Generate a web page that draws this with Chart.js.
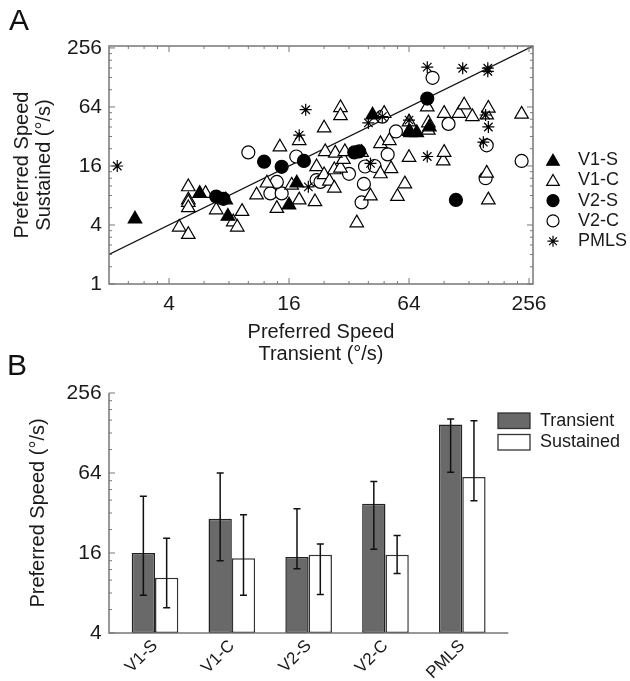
<!DOCTYPE html>
<html>
<head>
<meta charset="utf-8">
<script src="https://cdn.jsdelivr.net/npm/chart.js@4.4.1/dist/chart.umd.min.js"></script>
<style>
  html, body { margin: 0; padding: 0; background: #fff; }
  #wrap { position: relative; width: 630px; height: 681px; overflow: hidden; font-family: 'Liberation Sans', Arial, sans-serif; }
  canvas { position: absolute; left: 0; }
  #chartA { top: 0; }
  #chartB { top: 360px; }
  .panel { position: absolute; font-size: 30px; line-height: 34px; color: #111; }
</style>
</head>
<body>
<div id="wrap">
  <canvas id="chartA" width="630" height="370"></canvas>
  <canvas id="chartB" width="630" height="321"></canvas>
  <div class="panel" style="left:9px; top:3px;">A</div>
  <div class="panel" style="left:7px; top:348px;">B</div>
</div>
<script>
// Panel A: preferred speed per cell, [transient, sustained] in deg/s
const v1sPoints = [[2.7,4.6],[5.7,8.4],[7.7,7.2],[7.9,4.9],[16,6.4],[17.5,10.7],[42,53],[64,36],[70,35],[81,40]];
const v1cPoints = [
  [4.5,3.8],[5,3.2],[5,9.8],[5,7.2],[5,6.8],[5,6],[6.1,8.4],[6.9,5.7],[8.4,4.3],[8.8,3.8],[9.3,5.5],
  [11,8.1],[12.4,10.7],[13.9,5.9],[16.5,10.2],[18,7.2],[21.6,6.9],[22,15.7],[24,13],[25.5,11.2],
  [27,9.5],[27,14.6],[29,15.2],[30,18.6],[24.3,22.4],[27.3,21.6],[30.5,22.4],[37,22],[14.4,25],
  [18,29],[24,39],[29,63],[29,52],[35,4.2],[41,7.9],[46,13.3],[52,15],[46,27],[51,29],[48,55],
  [56,7.8],[61,10.5],[64,19.5],[64,45],[65,35],[79,64],[80,44],[80,37],[95,18],[96,22],[96,55],
  [114,55],[121,67],[133,51],[157,53],[160,62],[157,13.5],[160,7.2],[235,54]
];
const v2sPoints = [[6.9,7.8],[7.5,7.4],[12,17.7],[14.7,15.7],[19,18],[34,22],[36,22.5],[79,78],[110,7.2]];
const v2cPoints = [
  [10,22],[12.9,8.4],[14.7,8.4],[13.9,11],[17.4,20],[22,11.5],[23,11],[32,13.3],[37,6.8],[38,10.5],
  [38.5,15.8],[43,16],[47,51],[50,21],[55,36],[84,127],[101,43],[155,12],[157,26],[235,18]
];
const pmlsPoints = [
  [2.2,16],[18,33],[19.4,60],[20,9.8],[40,44],[41,17],[47,51],[64,47],[79,163],[79,79],[79,20],
  [119,159],[159,159],[159,148],[155,53],[160,40],[151,28]
];
const unityLine = [2, 268];
const xRangeA = [2, 268];
const yRangeA = [1, 268];
const xTicksA = [4, 16, 64, 256];
const yTicksA = [1, 4, 16, 64, 256];

// Panel B: mean preferred speed with error range
const areas = ['V1-S', 'V1-C', 'V2-S', 'V2-C', 'PMLS'];
const transientMean = [16, 29, 14.9, 37.6, 148];
const transientLow = [7.7, 14, 12.2, 17.1, 64.7];
const transientHigh = [42.7, 64, 34.5, 55.3, 163];
const sustainedMean = [10.4, 14.6, 15.5, 15.5, 59.7];
const sustainedLow = [6.2, 7.7, 7.8, 11.2, 39.6];
const sustainedHigh = [20.7, 31, 18.7, 21.7, 158];
const yRangeB = [4, 256];
const yTicksB = [4, 16, 64, 256];

const minorSteps = [1.5, 2, 2.5, 3, 3.5];
const FONT = "'Liberation Sans', Arial, sans-serif";
Chart.defaults.font.family = FONT;
Chart.defaults.color = '#1a1a1a';

function minorValues(majors, min, max) {
  const out = [];
  [majors[0] / 4].concat(majors).forEach(b => minorSteps.forEach(s => {
    const v = b * s;
    if (v > min && v < max && !majors.includes(v)) out.push(v);
  }));
  return out;
}

function marker(ctx, style, x, y, r) {
  ctx.beginPath();
  if (style === 'circle') {
    ctx.arc(x, y, r, 0, Math.PI * 2);
    ctx.fill(); ctx.stroke();
  } else if (style === 'triangle') {
    for (let i = 0; i < 3; i++) {
      const a = i * 2 * Math.PI / 3;
      ctx.lineTo(x + Math.sin(a) * r, y - Math.cos(a) * r);
    }
    ctx.closePath();
    ctx.fill(); ctx.stroke();
  } else {
    for (let i = 0; i < 4; i++) {
      const a = i * Math.PI / 4;
      ctx.moveTo(x - Math.cos(a) * r, y - Math.sin(a) * r);
      ctx.lineTo(x + Math.cos(a) * r, y + Math.sin(a) * r);
    }
    ctx.stroke();
  }
}

const seriesA = [
  { label: 'V1-S', points: v1sPoints, style: 'triangle', fill: '#000', r: 7.8, order: 1 },
  { label: 'V1-C', points: v1cPoints, style: 'triangle', fill: '#fff', r: 7.8, order: 3 },
  { label: 'V2-S', points: v2sPoints, style: 'circle', fill: '#000', r: 6.5, order: 2 },
  { label: 'V2-C', points: v2cPoints, style: 'circle', fill: '#fff', r: 6.5, order: 4 },
  { label: 'PMLS', points: pmlsPoints, style: 'star', fill: '#000', r: 6, order: 0 }
];

const frameA = {
  id: 'frameA',
  afterDatasetsDraw(chart) {
    const { ctx, chartArea: a, scales: { x, y } } = chart;
    ctx.save();
    ctx.strokeStyle = '#777';
    ctx.lineWidth = 1.5;
    ctx.strokeRect(a.left, a.top, a.right - a.left, a.bottom - a.top);
    ctx.lineWidth = 1;
    const mark = (scale, vals, len) => vals.forEach(v => {
      const p = scale.getPixelForValue(v);
      ctx.beginPath();
      if (scale.isHorizontal()) {
        ctx.moveTo(p, a.bottom); ctx.lineTo(p, a.bottom - len);
        ctx.moveTo(p, a.top); ctx.lineTo(p, a.top + len);
      } else {
        ctx.moveTo(a.left, p); ctx.lineTo(a.left + len, p);
        ctx.moveTo(a.right, p); ctx.lineTo(a.right - len, p);
      }
      ctx.stroke();
    });
    mark(x, xTicksA, 6); mark(x, minorValues(xTicksA, x.min, x.max), 3);
    mark(y, yTicksA, 6); mark(y, minorValues(yTicksA, y.min, y.max), 3);
    ctx.restore();
  },
  afterDraw(chart) {
    const ctx = chart.ctx;
    ctx.save();
    ctx.font = '18px ' + FONT;
    ctx.textBaseline = 'middle';
    seriesA.forEach((s, i) => {
      const ly = 160 + i * 20.3;
      ctx.fillStyle = s.fill;
      ctx.strokeStyle = '#000';
      ctx.lineWidth = 1.2;
      marker(ctx, s.style, 553, ly + (s.style === 'triangle' ? 1.5 : 0), s.r - 0.5);
      ctx.fillStyle = '#1a1a1a';
      ctx.fillText(s.label, 578, ly);
    });
    ctx.restore();
  }
};

const logAxis = (range, ticks) => ({
  type: 'logarithmic',
  min: range[0],
  max: range[1],
  afterBuildTicks: axis => { axis.ticks = ticks.map(v => ({ value: v })); },
  grid: { display: false, drawTicks: false },
  border: { display: false }
});

const datasetsA = seriesA.map(s => ({
  label: s.label,
  data: s.points.map(p => ({ x: p[0], y: p[1] })),
  pointStyle: s.style,
  pointRadius: s.r,
  pointBackgroundColor: s.fill,
  pointBorderColor: '#000',
  pointBorderWidth: 1.2,
  order: s.order,
  clip: false
}));
datasetsA.push({
  label: 'unity',
  data: unityLine.map(v => ({ x: v, y: v })),
  showLine: true,
  borderColor: '#111',
  borderWidth: 1.2,
  pointRadius: 0,
  order: 9
});

new Chart(document.getElementById('chartA'), {
  type: 'scatter',
  data: { datasets: datasetsA },
  options: {
    responsive: false,
    animation: false,
    layout: { padding: { top: 46, right: 97, bottom: 0, left: 0 } },
    plugins: { legend: { display: false }, tooltip: { enabled: false } },
    scales: {
      x: Object.assign(logAxis(xRangeA, xTicksA), {
        afterFit: s => { s.height = 86; },
        ticks: { font: { size: 21 }, padding: 8, callback: v => String(v), maxRotation: 0 },
        title: { display: true, text: ['Preferred Speed', 'Transient (\u00b0/s)'], font: { size: 20, lineHeight: 1.1 }, padding: { top: 0, bottom: 5 } }
      }),
      y: Object.assign(logAxis(yRangeA, yTicksA), {
        afterFit: s => { s.width = 109; },
        ticks: { font: { size: 21 }, padding: 7, callback: v => String(v) },
        title: { display: true, text: ['Preferred Speed', 'Sustained (\u00b0/s)'], font: { size: 20, lineHeight: 1.1 }, padding: { top: 11, bottom: 0 } }
      })
    }
  },
  plugins: [frameA]
});

// Panel B
const axisGapB = 7.6;
const barsB = {
  id: 'barsB',
  afterDatasetsDraw(chart) {
    const { ctx, chartArea: a, scales: { y } } = chart;
    ctx.save();
    // error bars
    [[transientLow, transientHigh], [sustainedLow, sustainedHigh]].forEach((err, d) => {
      chart.getDatasetMeta(d).data.forEach((bar, i) => {
        const top = y.getPixelForValue(err[1][i]);
        const bot = y.getPixelForValue(err[0][i]);
        ctx.strokeStyle = '#111';
        ctx.lineWidth = 1.5;
        ctx.beginPath();
        ctx.moveTo(bar.x, top); ctx.lineTo(bar.x, bot);
        ctx.moveTo(bar.x - 3.5, top); ctx.lineTo(bar.x + 3.5, top);
        ctx.moveTo(bar.x - 3.5, bot); ctx.lineTo(bar.x + 3.5, bot);
        ctx.stroke();
      });
    });
    // axes
    const ax = a.left - axisGapB;
    ctx.strokeStyle = '#777';
    ctx.lineWidth = 1.5;
    ctx.beginPath();
    ctx.moveTo(ax, y.getPixelForValue(yRangeB[1]));
    ctx.lineTo(ax, a.bottom);
    ctx.lineTo(a.right + axisGapB, a.bottom);
    ctx.stroke();
    ctx.lineWidth = 1;
    const mark = (vals, len) => vals.forEach(v => {
      const p = y.getPixelForValue(v);
      ctx.beginPath(); ctx.moveTo(ax, p); ctx.lineTo(ax + len, p); ctx.stroke();
    });
    mark(yTicksB, 6);
    mark(minorValues(yTicksB, y.min, y.max), 3);
    ctx.restore();
  },
  afterDraw(chart) {
    const ctx = chart.ctx;
    ctx.save();
    ctx.font = '18px ' + FONT;
    ctx.textBaseline = 'middle';
    chart.data.datasets.forEach((ds, i) => {
      const ly = 53 + i * 21.5;
      ctx.fillStyle = ds.backgroundColor;
      ctx.strokeStyle = '#333';
      ctx.lineWidth = 1.3;
      ctx.fillRect(498, ly, 32, 15.5);
      ctx.strokeRect(498, ly, 32, 15.5);
      ctx.fillStyle = '#1a1a1a';
      ctx.fillText(ds.label, 540, ly + 8);
    });
    ctx.restore();
  }
};

new Chart(document.getElementById('chartB'), {
  type: 'bar',
  data: {
    labels: areas,
    datasets: [
      { label: 'Transient', data: transientMean, backgroundColor: '#696969', borderColor: '#222', borderWidth: 1.5, borderSkipped: false },
      { label: 'Sustained', data: sustainedMean, backgroundColor: '#ffffff', borderColor: '#333', borderWidth: 1.5, borderSkipped: false }
    ]
  },
  options: {
    responsive: false,
    animation: false,
    categoryPercentage: 0.607,
    barPercentage: 1.0,
    layout: { padding: { top: 33, right: 129.3, bottom: 0, left: 0 } },
    plugins: { legend: { display: false }, tooltip: { enabled: false } },
    scales: {
      x: {
        afterFit: s => { s.height = 48; },
        grid: { display: false, drawTicks: false },
        border: { display: false },
        ticks: { font: { size: 17 }, padding: 3, minRotation: 45, maxRotation: 45, autoSkip: false }
      },
      y: Object.assign(logAxis(yRangeB, yTicksB), {
        afterFit: s => { s.width = 116.6; },
        ticks: { font: { size: 21 }, padding: 15, callback: v => String(v) },
        title: { display: true, text: 'Preferred Speed (\u00b0/s)', font: { size: 20, lineHeight: 1.15 }, padding: { top: 27, bottom: 0 } }
      })
    }
  },
  plugins: [barsB]
});
</script>
</body>
</html>
